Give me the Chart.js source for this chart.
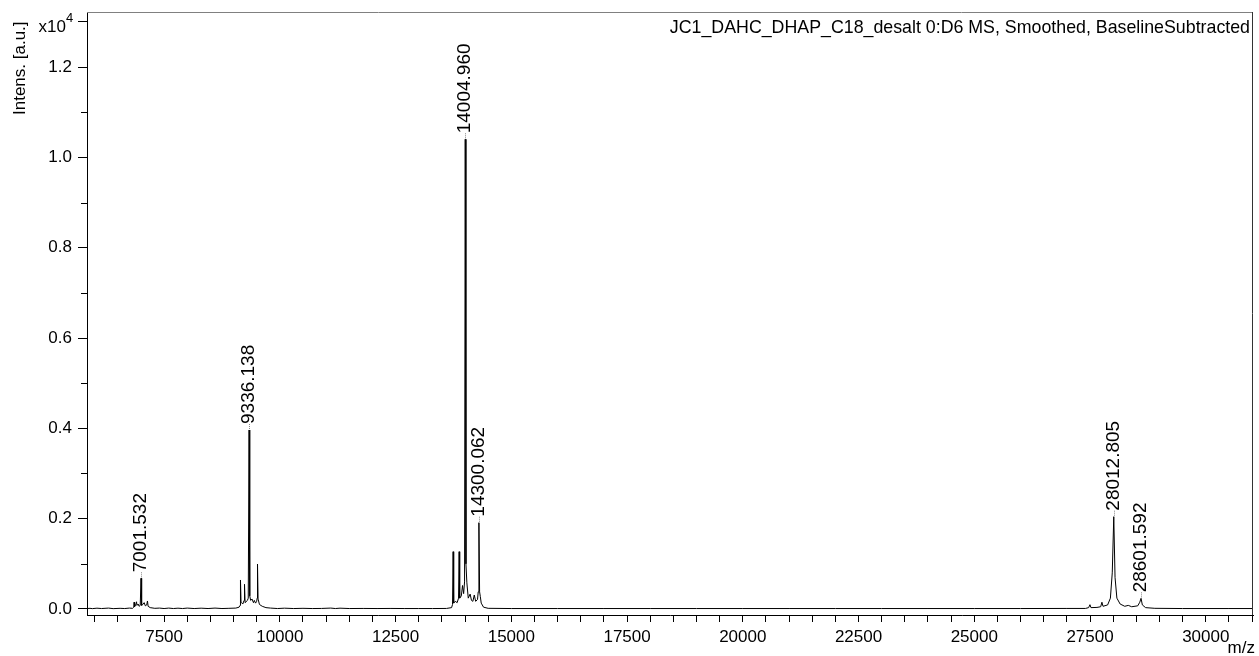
<!DOCTYPE html>
<html>
<head>
<meta charset="utf-8">
<script src="https://cdn.jsdelivr.net/npm/chart.js@4.4.0/dist/chart.umd.min.js"></script>
<style>
html,body{margin:0;padding:0;background:#fff;}
#wrap{width:1259px;height:656px;}
</style>
</head>
<body>
<div id="wrap"><canvas id="c" width="1259" height="656"></canvas></div>
<script>
// ---- data (m/z, intensity in a.u.) ----
const mz = [
  5835, 5900, 5950, 6050, 6150, 6300, 6400, 6550, 6650, 6750, 6820,
  6845, 6852, 6862, 6880, 6904, 6915, 6940, 6960, 6985, 7001.532, 7015, 7040, 7070, 7095, 7125, 7141, 7155, 7200,
  7300, 7400, 7500, 7600, 7700, 7800, 7900, 8000, 8150, 8300, 8450, 8600, 8750, 8900, 9050, 9120,
  9140, 9150, 9162, 9200, 9228, 9237, 9250, 9300, 9318, 9336.138, 9350, 9370, 9400, 9430, 9450, 9475, 9500, 9510, 9518, 9530, 9560, 9620,
  9700, 9800, 9950, 10100, 10300, 10500, 10700, 10900, 11100, 11200, 11300, 11500, 11800, 12100, 12400, 12700, 13000, 13300, 13600, 13710,
  13730, 13743, 13755, 13790, 13830, 13860, 13873, 13885, 13920, 13946, 13970, 13990, 14004.960, 14020, 14040, 14070, 14110, 14140, 14170,
  14200, 14230, 14270, 14285, 14300.062, 14315, 14330, 14350, 14400, 14500, 15000, 16000, 17000, 18000, 19000, 20000, 21000, 22000,
  23000, 24000, 25000, 26000, 27000, 27400,
  27470, 27498, 27520, 27650, 27730, 27757, 27780, 27880, 27940, 27980, 28012.805, 28040, 28080, 28150, 28250, 28326, 28400,
  28530, 28575, 28601.592, 28630, 28700, 28900, 29500, 30500, 31020
];
const intensity = [
  10, 15, 8, 18, 10, 20, 8, 15, 10, 20, 15,
  40, 150, 50, 70, 160, 80, 110, 60, 80, 680, 80, 100, 140, 70, 90, 177, 60, 30,
  15, 20, 10, 20, 10, 18, 10, 20, 10, 18, 10, 20, 10, 15, 20, 40,
  80, 642, 150, 110, 190, 547, 140, 190, 240, 3963, 290, 190, 220, 140, 190, 130, 170, 240, 996, 220, 100, 60,
  30, 20, 10, 18, 10, 15, 10, 12, 20, 10, 18, 10, 12, 10, 12, 10, 10, 10, 12, 30,
  100, 1269, 130, 170, 140, 240, 1269, 240, 290, 520, 340, 600, 10400, 1000, 580, 240, 330, 190, 170,
  310, 170, 210, 380, 1911, 380, 280, 130, 40, 15, 10, 10, 10, 10, 10, 10, 10, 10,
  10, 10, 10, 10, 12, 12,
  30, 95, 30, 35, 50, 150, 60, 90, 240, 800, 2044, 700, 240, 110, 60, 80, 50,
  70, 150, 236, 90, 30, 15, 10, 10, 10
];
const peakLabelMz = [7001.532, 9336.138, 14004.960, 14300.062, 28012.805, 28601.592];
const peakLabelText = ["7001.532", "9336.138", "14004.960", "14300.062", "28012.805", "28601.592"];
const xTickValues = [];
for (let v = 6000; v <= 31000; v += 500) xTickValues.push(v);
const yTickValues = [0, 1000, 2000, 3000, 4000, 5000, 6000, 7000, 8000, 9000, 10000, 11000, 12000, 13000];
const titleText = "JC1_DAHC_DHAP_C18_desalt 0:D6 MS, Smoothed, BaselineSubtracted";
const yAxisTitle = "Intens. [a.u.]";
const xAxisTitle = "m/z";

const FONT = "'Liberation Sans', Arial, sans-serif";
Chart.defaults.font.family = FONT;
Chart.defaults.color = '#000';

const isMajorY = v => v % 2000 === 0 || v === 13000;

const extras = {
  id: 'extras',
  afterDraw(chart) {
    const ctx = chart.ctx, a = chart.chartArea;
    const xs = chart.scales.x, ys = chart.scales.y;
    ctx.save();
    ctx.lineWidth = 1;
    ctx.strokeStyle = '#808080';
    ctx.beginPath(); ctx.moveTo(a.left, a.top + 0.5); ctx.lineTo(a.right, a.top + 0.5); ctx.stroke();
    ctx.strokeStyle = '#333';
    ctx.beginPath(); ctx.moveTo(a.right - 0.5, a.top); ctx.lineTo(a.right - 0.5, a.bottom); ctx.stroke();
    ctx.strokeStyle = '#000';
    yTickValues.forEach(v => {
      if (isMajorY(v)) return;
      const y = Math.round(ys.getPixelForValue(v)) + 0.5;
      ctx.beginPath(); ctx.moveTo(a.left - 6, y); ctx.lineTo(a.left, y); ctx.stroke();
    });
    const y13 = ys.getPixelForValue(13000);
    ctx.fillStyle = '#000';
    ctx.textBaseline = 'middle';
    ctx.textAlign = 'right';
    ctx.font = '17px ' + FONT;
    ctx.fillText('x10', 66, y13 + 5);
    ctx.textAlign = 'left';
    ctx.font = '13px ' + FONT;
    ctx.fillText('4', 66, y13 - 3);
    ctx.save();
    ctx.translate(20, 115);
    ctx.rotate(-Math.PI / 2);
    ctx.font = '17px ' + FONT;
    ctx.textAlign = 'left';
    ctx.textBaseline = 'middle';
    ctx.fillText(yAxisTitle, 0, 0);
    ctx.restore();
    ctx.font = '17px ' + FONT;
    ctx.textAlign = 'right';
    ctx.textBaseline = 'middle';
    ctx.fillText(xAxisTitle, 1255, 648);
    ctx.font = '17.8px ' + FONT;
    ctx.textAlign = 'right';
    ctx.textBaseline = 'alphabetic';
    ctx.fillText(titleText, 1250, 33);
    peakLabelMz.forEach((m, i) => {
      const idx = mz.indexOf(m);
      const px = xs.getPixelForValue(m);
      const py = ys.getPixelForValue(intensity[idx]);
      ctx.strokeStyle = '#888';
      ctx.setLineDash([1, 1]);
      ctx.beginPath(); ctx.moveTo(Math.round(px) + 0.5, py - 1); ctx.lineTo(Math.round(px) + 0.5, py - 6); ctx.stroke();
      ctx.setLineDash([]);
      ctx.save();
      ctx.translate(px, py - 6);
      ctx.rotate(-Math.PI / 2);
      ctx.font = '19px ' + FONT;
      ctx.fillStyle = '#000';
      ctx.textAlign = 'left';
      ctx.textBaseline = 'middle';
      ctx.fillText(peakLabelText[i], 0, 0);
      ctx.restore();
    });
    ctx.restore();
  }
};

new Chart(document.getElementById('c'), {
  type: 'line',
  data: {
    datasets: [{
      data: mz.map((m, i) => ({ x: m, y: intensity[i] })),
      borderColor: '#000',
      borderWidth: 1,
      pointRadius: 0,
      tension: 0,
      fill: false
    }]
  },
  options: {
    responsive: false,
    animation: false,
    events: [],
    layout: { padding: { top: 12, right: 6, left: 0, bottom: 0 } },
    plugins: { legend: { display: false }, tooltip: { enabled: false } },
    scales: {
      x: {
        type: 'linear',
        min: 5835,
        max: 31020,
        afterBuildTicks: s => { s.ticks = xTickValues.map(v => ({ value: v })); },
        afterFit: s => { s.height = 41; s.paddingLeft = 0; s.paddingRight = 0; },
        grid: { display: true, drawOnChartArea: false, tickLength: 7, tickColor: '#000' },
        border: { display: true, color: '#000', width: 1 },
        ticks: {
          autoSkip: false, maxRotation: 0, padding: 5,
          font: { size: 17 },
          callback: v => (v % 2500 === 0 ? String(v) : '')
        }
      },
      y: {
        type: 'linear',
        min: -133,
        max: 13218,
        afterBuildTicks: s => { s.ticks = yTickValues.map(v => ({ value: v })); },
        afterFit: s => { s.width = 87; s.paddingTop = 0; s.paddingBottom = 0; },
        grid: {
          display: true, drawOnChartArea: false, tickLength: 9,
          tickColor: c => (isMajorY(c.tick.value) ? '#000' : 'rgba(0,0,0,0)')
        },
        border: { display: true, color: '#000', width: 1 },
        ticks: {
          autoSkip: false, padding: 6,
          font: { size: 17 },
          callback: v => (v % 2000 === 0 ? (v / 10000).toFixed(1) : '')
        }
      }
    }
  },
  plugins: [extras]
});
</script>
</body>
</html>
